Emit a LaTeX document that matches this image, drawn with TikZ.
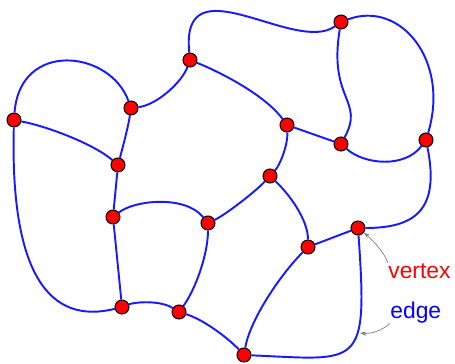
\documentclass[tikz,border=0pt]{standalone}
\usepackage{fontspec}
\setmainfont{Liberation Sans}
\usepackage{tikz}
\usetikzlibrary{arrows.meta}

\begin{document}
\begin{tikzpicture}[x=0.02cm, y=-0.02cm,
  vtx/.style={circle, draw=black, line width=0.6pt, fill=red, inner sep=0pt, minimum size=0.28cm},
  link/.style={draw=blue!90!white, line width=1.1pt},
  pointer/.style={draw=gray, line width=0.4pt, -{Stealth[length=3.5pt, width=2.5pt]}},
  lbl/.style={anchor=base west, inner sep=0pt, font=\fontsize{13}{15}\selectfont}]
\path[use as bounding box] (0,0) rectangle (455,364);
\node[vtx] (A) at (14,120) {};
\node[vtx] (B) at (131,108) {};
\node[vtx] (C) at (190,60) {};
\node[vtx] (D) at (341,22) {};
\node[vtx] (E) at (287,125) {};
\node[vtx] (F) at (341,144) {};
\node[vtx] (G) at (426,140) {};
\node[vtx] (H) at (118,165) {};
\node[vtx] (I) at (270,176) {};
\node[vtx] (J) at (113,217) {};
\node[vtx] (K) at (208,223) {};
\node[vtx] (L) at (358,228) {};
\node[vtx] (M) at (308,247) {};
\node[vtx] (N) at (122,307) {};
\node[vtx] (O) at (179,312) {};
\node[vtx] (P) at (244,355) {};
\path[link] (A) .. controls (20,40) and (110,50) .. (B);
\path[link] (A) .. controls (50,127) and (95,145) .. (H);
\path[link] (A) .. controls (10,275) and (50,325) .. (N);
\path[link] (B) .. controls (157,105) and (182,82) .. (C);
\path[link] (B) .. controls (128,128) and (122,150) .. (H);
\path[link] (C) .. controls (180,-40) and (295,55) .. (D);
\path[link] (C) .. controls (220,72) and (265,95) .. (E);
\path[link] (D) .. controls (400,0) and (450,60) .. (G);
\path[link] (D) .. controls (328,100) and (365,100) .. (F);
\path[link] (E) -- (F);
\path[link] (E) .. controls (288,145) and (280,165) .. (I);
\path[link] (F) .. controls (365,165) and (405,168) .. (G);
\path[link] (G) .. controls (440,210) and (415,228) .. (L);
\path[link] (H) -- (J);
\path[link] (J) .. controls (135,200) and (185,195) .. (K);
\path[link] (J) -- (N);
\path[link] (K) .. controls (225,215) and (255,192) .. (I);
\path[link] (K) .. controls (208,255) and (195,290) .. (O);
\path[link] (I) .. controls (290,195) and (308,220) .. (M);
\path[link] (M) -- (L);
\path[link] (M) .. controls (280,275) and (250,320) .. (P);
\path[link] (L) .. controls (368,370) and (360,360) .. (P);
\path[link] (N) .. controls (135,302) and (160,300) .. (O);
\path[link] (O) .. controls (205,320) and (230,340) .. (P);
\node[lbl, text=red] (vlabel) at (388,278) {vertex};
\node[lbl, text=blue] (elabel) at (390,318) {edge};
\coordinate (onedge) at (360,333);
\draw[pointer] (vlabel.north west) .. controls +(-4,-12) and +(10,8) .. (L);
\draw[pointer] (elabel.south west) .. controls +(-8,8) and +(10,1) .. (onedge);
\end{tikzpicture}
\end{document}
